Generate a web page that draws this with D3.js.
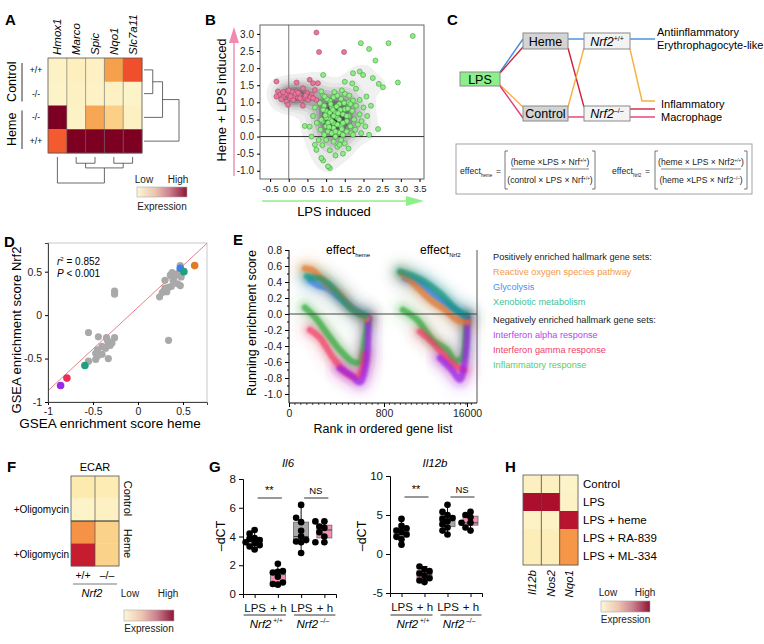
<!DOCTYPE html>
<html>
<head>
<meta charset="utf-8">
<script src="https://cdn.jsdelivr.net/npm/d3@7"></script>
<style>
body{margin:0;background:#fff}
svg{font-family:"Liberation Sans",Arial,sans-serif}
</style>
</head>
<body>
<svg id="fig" width="764" height="644"></svg>
<script>
'use strict'

// ---------- data ----------
// A: heatmap
const aGenes = ["Hmox1", "Marco", "Spic", "Nqo1", "Slc7a11"]
const aRowLabels = ["+/+", "-/-", "-/-", "+/+"]
const aGroups = ["Control", "Heme"]
const aValues = [
	[0.06, 0.09, 0.07, 0.45, 0.63],
	[0.05, 0.07, 0.06, 0.07, 0.05],
	[1.00, 0.06, 0.43, 0.28, 0.07],
	[0.60, 1.00, 1.00, 1.00, 1.00]
]
const aColTree = {h: 1, children: [{leaf: "Hmox1"}, {h: 0.42, children: [
	{h: 0.24, children: [{leaf: "Marco"}, {leaf: "Spic"}]},
	{h: 0.24, children: [{leaf: "Nqo1"}, {leaf: "Slc7a11"}]}]}]}
const aRowTree = {h: 1, children: [{h: 0.53, children: [
	{h: 0.25, children: [{leaf: 0}, {leaf: 1}]}, {leaf: 2}]}, {leaf: 3}]}

// B: scatter (LPS induced vs heme + LPS induced)
const bPink = [[-0.33,1.61],[-0.29,1.32],[-0.24,1.22],[-0.15,1.17],[-0.06,1.32],[-0.02,1.22],[0.03,1.12],[0.07,1.25],
	[0.12,1.07],[0.16,1.19],[0.21,1.32],[0.25,1.15],[0.29,1.22],[0.34,1.07],[0.21,1.58],[0.38,1.41],[0.43,1.15],
	[0.52,1.07],[0.56,1.66],[0.61,1.22],[0.70,1.36],[0.74,1.07],[0.78,1.56],[0.38,0.90],[-0.06,1.02],[-0.02,0.93],
	[-0.20,1.09],[-0.33,1.17],[0.65,1.56],[0.49,1.27],[0.74,3.04],[0.81,2.47],[1.48,2.47],[0.00,1.35],[-0.10,1.25],
	[0.10,1.30],[0.05,1.18],[-0.15,1.30],[0.18,1.25],[0.25,1.28],[0.45,1.20],[0.58,1.15],[0.65,1.12],[0.30,1.12]]
const bGreen = [[0.95,0.9],[1.0,0.75],[1.05,0.6],[1.1,0.5],[1.15,0.85],[1.2,0.4],[1.25,0.7],[1.3,0.55],[1.35,0.95],
	[1.4,0.3],[1.45,0.65],[1.5,0.8],[1.55,0.45],[1.6,1.0],[1.0,0.3],[1.05,0.15],[1.1,1.05],[1.2,1.15],[1.3,1.2],
	[1.4,1.1],[1.5,1.25],[1.6,0.6],[1.7,0.75],[1.65,0.3],[1.75,0.5],[1.8,0.9],[1.85,0.35],[0.9,0.45],[0.85,0.2],
	[0.95,0.05],[1.15,0.1],[1.25,0.0],[1.35,0.12],[1.45,0.05],[1.55,0.15],[1.2,0.25],[1.3,0.35],[1.0,0.55],[1.1,0.7],
	[1.2,0.6],[1.28,0.88],[1.38,0.78],[1.48,0.98],[1.58,0.82],[1.12,0.95],[1.02,1.1],[0.92,1.2],[1.22,1.3],[1.42,1.35],
	[1.62,1.2],[1.72,1.05],[1.78,0.2],[1.9,0.65],[1.95,0.45],[2.0,0.85],[2.05,0.3],[1.68,0.1],[1.4,-0.1],[1.2,-0.15],
	[1.0,-0.1],[1.3,-0.3],[1.1,-0.4],[0.9,-0.25],[1.5,-0.2],[1.6,-0.35],[1.25,-0.55],[1.45,-0.5],[0.8,-0.1],[1.15,0.45],
	[1.35,0.5],[1.25,0.15],[1.45,0.4],[1.05,0.4],[1.55,0.6],[1.65,0.95],[0.98,0.62],[1.18,0.78],[1.32,0.68],[1.42,0.22],
	[1.08,0.28],[3.32,2.94],[1.93,2.73],[2.67,2.73],[2.15,2.56],[2.32,2.22],[1.72,1.85],[1.90,1.90],[1.99,1.80],
	[2.25,1.71],[2.92,1.58],[2.41,1.54],[2.52,1.44],[2.08,1.17],[1.90,1.07],[2.39,0.22],[1.94,0.10],[2.15,0.05],
	[1.72,0.05],[1.10,-0.92],[1.36,-0.24],[0.92,-0.70],[0.87,0.49],[0.43,0.31],[0.61,0.0],[0.70,-0.24],[0.87,-0.63],
	[1.05,-0.87],[0.92,0.78],[0.83,0.98],[0.96,1.17],[0.87,1.32],[0.92,1.80],[0.74,-0.39],[0.56,0.29],[1.7,1.55],
	[1.5,1.6],[1.8,1.4],[2.2,0.9],[2.1,0.6],[0.65,0.6],[0.7,0.85],[0.75,0.4]]
const bXTicks = [-0.5, 0, 0.5, 1, 1.5, 2, 2.5, 3, 3.5]
const bYTicks = [-1, -0.5, 0, 0.5, 1, 1.5, 2, 2.5, 3]

// D: GSEA enrichment scores, heme vs Nrf2
const dGray = [[0.24,0.21],[0.30,0.40],[0.30,0.31],[0.34,0.32],[0.37,0.33],[0.32,0.27],[0.29,0.28],[0.39,0.40],
	[0.41,0.46],[0.43,0.47],[0.45,0.48],[0.48,0.44],[0.47,0.34],[0.40,0.43],[0.36,0.46],[0.47,0.57],[0.44,0.36],
	[0.27,0.26],[0.38,0.49],[-0.26,0.275],[-0.26,0.24],[0.34,-0.29],
	[-0.55,-0.20],[-0.44,-0.25],[-0.35,-0.26],[-0.26,-0.26],[-0.30,-0.32],[-0.33,-0.34],[-0.29,-0.32],[-0.40,-0.36],
	[-0.45,-0.40],[-0.47,-0.44],[-0.40,-0.45],[-0.33,-0.50],[-0.47,-0.51],[-0.55,-0.53],[-0.36,-0.38],[-0.31,-0.35],
	[-0.34,-0.29],[-0.45,-0.47]]
const dSets = ["Glycolysis", "Xenobiotic metabolism", "Reactive oxygen species pathway", "Xenobiotic metabolism",
	"Interferon gamma response", "Interferon alpha response"]
const dSetPoints = [[0.47,0.54],[0.51,0.50],[0.63,0.57],[-0.59,-0.58],[-0.79,-0.725],[-0.86,-0.81]]
const dFit = {slope: 0.96, intercept: 0.09}
const dTicks = [-1, -0.5, 0, 0.5]

// E: running enrichment score curves [rank, score]
const eSets = ["Reactive oxygen species pathway", "Glycolysis", "Xenobiotic metabolism",
	"Interferon alpha response", "Interferon gamma response", "Inflammatory response"]
const eHeme = [
	[[135,0.57],[194,0.55],[261,0.46],[345,0.34],[429,0.24],[514,0.09],[598,0.0],[657,-0.06]],
	[[177,0.42],[244,0.36],[328,0.32],[429,0.20],[531,0.08],[615,0.0]],
	[[152,0.47],[219,0.45],[261,0.44],[345,0.36],[429,0.22],[539,0.05],[640,-0.02]],
	[[429,-0.68],[531,-0.78],[598,-0.85],[648,-0.62],[665,-0.3],[670,-0.05]],
	[[177,-0.2],[261,-0.3],[371,-0.55],[488,-0.74],[581,-0.78],[640,-0.5]],
	[[135,0.08],[219,-0.04],[320,-0.24],[429,-0.45],[539,-0.6],[598,-0.6],[640,-0.3],[665,-0.06]]
]
const eNrf2 = [
	[[4096,0.50],[5927,0.40],[7392,0.30],[9589,0.16],[11969,0.05],[14349,-0.08],[16100,-0.10]],
	[[4645,0.45],[7392,0.38],[10321,0.22],[13251,0.08],[15448,-0.02]],
	[[3730,0.53],[5927,0.48],[8307,0.40],[11054,0.26],[13800,0.07],[15814,-0.02]],
	[[11054,-0.55],[13251,-0.70],[14716,-0.82],[15448,-0.65],[15997,-0.3],[16000,-0.05]],
	[[7392,-0.22],[9589,-0.35],[12335,-0.55],[14166,-0.66],[15448,-0.7]],
	[[4279,0.05],[6842,-0.07],[9772,-0.33],[12335,-0.45],[13800,-0.58],[15082,-0.55],[15814,-0.2],[15997,-0.02]]
]
const eYTicks = [-1.0, -0.8, -0.6, -0.4, -0.2, 0.0, 0.2, 0.4, 0.6, 0.8]
const eXTicks = [0, 800, 16000]

// F: ECAR heatmap
const fCols = ["+/+", "\u2013/\u2013"]
const fRowLabels = ["", "+Oligomycin", "", "+Oligomycin"]
const fGroups = ["Control", "Heme"]
const fValues = [[0.15, 0.13], [0.05, 0.07], [0.48, 0.27], [0.78, 0.27]]

// G: qPCR -dCT
const gTickLabels = ["LPS", "+ h", "LPS", "+ h"]
const il6Values = [
	[4.45, 4.2, 3.9, 3.85, 3.75, 3.6, 3.55, 3.4, 3.3, 3.1],
	[2.1, 1.55, 1.5, 1.6, 1.2, 0.8, 0.65, 0.7],
	[6.2, 5.3, 5.0, 4.4, 4.0, 3.75, 3.65, 3.6, 2.85],
	[5.05, 5.05, 4.7, 4.6, 4.3, 4.0, 3.6, 3.6]
]
const il12bValues = [
	[4.5, 3.6, 3.3, 3.0, 2.8, 2.5, 2.2, 1.9, 1.2],
	[-1.6, -2.0, -2.2, -2.5, -2.8, -3.1, -3.4, -3.6],
	[6.3, 5.4, 5.0, 4.6, 4.5, 4.2, 3.8, 3.4, 3.0, 2.5],
	[5.4, 5.0, 4.7, 4.0, 4.0, 3.4, 3.0]
]
const il6Ticks = [0, 2, 4, 6, 8]
const il12bTicks = [-5, 0, 5, 10]

// H: heatmap
const hGenes = ["Il12b", "Nos2", "Nqo1"]
const hConds = ["Control", "LPS", "LPS + heme", "LPS + RA-839", "LPS + ML-334"]
const hValues = [[0.08, 0.08, 0.05], [0.86, 0.86, 0.06], [0.06, 0.06, 0.82], [0.11, 0.11, 0.47], [0.11, 0.11, 0.47]]

// ---------- setup ----------
const svg = d3.select("#fig")
svg.append("rect").attr("width", 764).attr("height", 644).attr("fill", "#fff")
const defs = svg.append("defs")

const heat = d3.scaleLinear()
	.domain([0, 0.2, 0.45, 0.62, 0.8, 1])
	.range(["#fdf7d4", "#fde6a2", "#f7a04c", "#f2522b", "#bf1530", "#7d0022"])

let grad = defs.append("linearGradient").attr("id", "legGrad")
;[["0%", "#fdf6d8"], ["35%", "#ecc7b0"], ["65%", "#cc8090"], ["100%", "#8c1534"]].forEach(function(s){
	grad.append("stop").attr("offset", s[0]).attr("stop-color", s[1])
})

function blurFilter(id, sd){
	defs.append("filter").attr("id", id)
		.attr("x", "-50%").attr("y", "-50%").attr("width", "200%").attr("height", "200%")
		.append("feGaussianBlur").attr("stdDeviation", sd)
}
blurFilter("b1", 1.3)
blurFilter("b2", 2.8)
blurFilter("b3", 5)

function letter(t, x, y){
	svg.append("text").attr("x", x).attr("y", y).attr("font-size", 15).attr("font-weight", "bold").text(t)
}
letter("A", 5, 25); letter("B", 205, 25); letter("C", 447, 25); letter("D", 4, 247)
letter("E", 233, 245); letter("F", 7, 472); letter("G", 209, 472); letter("H", 505, 472)

function legend(x, y, w, h, lowX, highX, labY, expY){
	let g = svg.append("g").attr("font-size", 10).attr("fill", "#222")
	g.append("text").attr("x", lowX).attr("y", labY).attr("text-anchor", "middle").text("Low")
	g.append("text").attr("x", highX).attr("y", labY).attr("text-anchor", "middle").text("High")
	g.append("rect").attr("x", x).attr("y", y).attr("width", w).attr("height", h)
		.attr("fill", "url(#legGrad)").attr("stroke", "#aaa").attr("stroke-width", 0.6)
	g.append("text").attr("x", x + w / 2).attr("y", expY).attr("text-anchor", "middle").text("Expression")
}

// dendrogram: pos(leaf) gives leaf coordinate, hs(h) gives depth coordinate
function dendro(tree, pos, hs, vertical){
	let g = svg.append("g").attr("stroke", "#444").attr("stroke-width", 0.8).attr("fill", "none")
	function walk(n){
		if(n.leaf !== undefined) return {p: pos(n.leaf), h: 0}
		let kids = n.children.map(walk)
		let p = d3.mean(kids, function(k){ return k.p })
		kids.forEach(function(k){
			if(vertical) g.append("line").attr("x1", k.p).attr("x2", k.p).attr("y1", hs(k.h)).attr("y2", hs(n.h))
			else g.append("line").attr("y1", k.p).attr("y2", k.p).attr("x1", hs(k.h)).attr("x2", hs(n.h))
		})
		let ext = d3.extent(kids, function(k){ return k.p })
		if(vertical) g.append("line").attr("x1", ext[0]).attr("x2", ext[1]).attr("y1", hs(n.h)).attr("y2", hs(n.h))
		else g.append("line").attr("y1", ext[0]).attr("y2", ext[1]).attr("x1", hs(n.h)).attr("x2", hs(n.h))
		return {p: p, h: n.h}
	}
	walk(tree)
}

function heatCells(g, values, x, y, cols){
	values.forEach(function(row, i){
		row.forEach(function(v, j){
			g.append("rect").attr("x", x(cols[j])).attr("y", y(i))
				.attr("width", x.bandwidth() + 0.3).attr("height", y.bandwidth() + 0.3)
				.attr("fill", heat(v))
		})
	})
}

// ---------- A ----------
;(function(){
	let xA = d3.scaleBand().domain(aGenes).range([48, 142])
	let yA = d3.scaleBand().domain(d3.range(aValues.length)).range([58, 153])
	let g = svg.append("g")
	heatCells(g, aValues, xA, yA, aGenes)
	aGenes.slice(1).forEach(function(c){
		g.append("line").attr("x1", xA(c)).attr("x2", xA(c)).attr("y1", 58).attr("y2", 153)
			.attr("stroke", "#666").attr("stroke-width", 0.6)
	})
	g.append("rect").attr("x", 48).attr("y", 58).attr("width", 94).attr("height", 95)
		.attr("fill", "none").attr("stroke", "#555").attr("stroke-width", 0.8)
	aGenes.forEach(function(c){
		g.append("text").attr("transform", "translate(" + (xA(c) + xA.bandwidth() / 2 + 4) + ",55) rotate(-90)")
			.attr("font-size", 11.5).attr("font-style", "italic").text(c)
	})
	aRowLabels.forEach(function(r, i){
		g.append("text").attr("x", 36).attr("y", yA(i) + yA.bandwidth() / 2 + 3)
			.attr("text-anchor", "middle").attr("font-size", 8.5).text(r)
	})
	aGroups.forEach(function(t, i){
		let y0 = yA(i * 2), y1 = yA(i * 2 + 1) + yA.bandwidth()
		g.append("line").attr("x1", 22).attr("x2", 22).attr("y1", y0 + 5).attr("y2", y1 - 4)
			.attr("stroke", "#333").attr("stroke-width", 1)
		g.append("text").attr("transform", "translate(16," + ((y0 + y1) / 2) + ") rotate(-90)")
			.attr("text-anchor", "middle").attr("font-size", 12.5).text(t)
	})
	dendro(aColTree, function(l){ return xA(l) + xA.bandwidth() / 2 },
		d3.scaleLinear().domain([0, 1]).range([157, 183]), true)
	dendro(aRowTree, function(l){ return yA(l) + yA.bandwidth() / 2 },
		d3.scaleLinear().domain([0, 1]).range([144, 179]), false)
	legend(137, 187, 50, 10, 144, 178, 183, 210)
})()

// ---------- B ----------
;(function(){
	let xB = d3.scaleLinear().domain([-0.77, 3.62]).range([260, 424])
	let yB = d3.scaleLinear().domain([-1.24, 3.26]).range([179, 25])
	let g = svg.append("g")
	defs.append("clipPath").attr("id", "clipB").append("rect").attr("x", 260).attr("y", 25).attr("width", 164).attr("height", 154)

	let all = bPink.concat(bGreen)
	let dens = d3.contourDensity()
		.x(function(d){ return xB(d[0]) }).y(function(d){ return yB(d[1]) })
		.size([764, 644]).bandwidth(6.5).thresholds(12)(all)
	let dcol = d3.scalePow().exponent(1.5).domain([0, dens.length - 1]).range(["#ececec", "#1c1c1c"])
	g.append("g").attr("clip-path", "url(#clipB)").selectAll("path").data(dens).enter().append("path")
		.attr("d", d3.geoPath()).attr("fill", function(d, i){ return dcol(i) }).attr("opacity", 0.8)

	g.append("line").attr("x1", xB(0)).attr("x2", xB(0)).attr("y1", 25).attr("y2", 179).attr("stroke", "#777").attr("stroke-width", 1)
	g.append("line").attr("x1", 260).attr("x2", 424).attr("y1", yB(0)).attr("y2", yB(0)).attr("stroke", "#333").attr("stroke-width", 1)

	g.append("g").selectAll("circle").data(bGreen).enter().append("circle")
		.attr("cx", function(d){ return xB(d[0]) }).attr("cy", function(d){ return yB(d[1]) }).attr("r", 2.5)
		.attr("fill", "#8fec86").attr("stroke", "#3f9c3f").attr("stroke-width", 0.6)
	g.append("g").selectAll("circle").data(bPink).enter().append("circle")
		.attr("cx", function(d){ return xB(d[0]) }).attr("cy", function(d){ return yB(d[1]) }).attr("r", 2.5)
		.attr("fill", "#e6789c").attr("stroke", "#a84868").attr("stroke-width", 0.6)

	g.append("rect").attr("x", 260).attr("y", 25).attr("width", 164).attr("height", 154)
		.attr("fill", "none").attr("stroke", "#555").attr("stroke-width", 0.9)
	let ax = g.append("g").attr("transform", "translate(0,179)")
		.call(d3.axisBottom(xB).tickValues(bXTicks).tickSize(3).tickFormat(d3.format(".1f")))
	let ay = g.append("g").attr("transform", "translate(260,0)")
		.call(d3.axisLeft(yB).tickValues(bYTicks).tickSize(3).tickFormat(d3.format(".1f")))
	;[ax, ay].forEach(function(a){
		a.select(".domain").remove()
		a.selectAll("text").attr("font-family", "Liberation Sans, Arial").attr("fill", "#222")
			.text(function(d){ return d3.format(".1f")(d).replace("\u2212", "-") })
	})
	ax.selectAll("text").attr("font-size", 9.5)
	ay.selectAll("text").attr("font-size", 10)

	// arrows
	g.append("line").attr("x1", 234).attr("x2", 234).attr("y1", 176).attr("y2", 40).attr("stroke", "#f08aae").attr("stroke-width", 1.4)
	g.append("path").attr("d", "M234,27 L229,43 L239,43 Z").attr("fill", "#f08aae")
	g.append("text").attr("transform", "translate(226,100) rotate(-90)").attr("text-anchor", "middle")
		.attr("font-size", 13).text("Heme + LPS induced")
	g.append("line").attr("x1", 262).attr("x2", 410).attr("y1", 201).attr("y2", 201).attr("stroke", "#8ff08a").attr("stroke-width", 1.4)
	g.append("path").attr("d", "M424,201 L406,196 L406,206 Z").attr("fill", "#8ff08a")
	g.append("text").attr("x", 334).attr("y", 216).attr("text-anchor", "middle").attr("font-size", 13).text("LPS induced")
})()

// ---------- C ----------
;(function(){
	let g = svg.append("g")
	let lines = [
		["#3d8ee0", [[500, 72], [523, 39]]], ["#3d8ee0", [[568, 39], [584, 39]]], ["#3d8ee0", [[630, 39], [655, 39]]],
		["#d0203c", [[500, 73], [523, 47]]], ["#d0203c", [[568, 48], [584, 107]]], ["#d0203c", [[630, 109], [655, 109]]],
		["#f6b03c", [[500, 85], [523, 107]]], ["#f6b03c", [[568, 107], [584, 48]]], ["#f6b03c", [[630, 49], [642, 101], [655, 101]]],
		["#e8386e", [[500, 86], [523, 118]]], ["#e8386e", [[568, 117], [584, 117]]], ["#e8386e", [[630, 117], [655, 117]]]
	]
	lines.forEach(function(l){
		g.append("path").attr("d", d3.line()(l[1])).attr("fill", "none").attr("stroke", l[0]).attr("stroke-width", 1.4)
	})
	function box(x, y, w, h, fill, label, sup){
		g.append("rect").attr("x", x).attr("y", y).attr("width", w).attr("height", h)
			.attr("fill", fill).attr("stroke", "#8a8a8a").attr("stroke-width", 1)
		let t = g.append("text").attr("x", x + w / 2).attr("y", y + h / 2 + 4.5).attr("text-anchor", "middle").attr("font-size", 12.5)
		if(sup){
			t.append("tspan").attr("font-style", "italic").text(label)
			t.append("tspan").attr("font-size", 7).attr("dy", -5).text(sup)
		}else t.text(label)
	}
	box(460, 72, 40, 14, "#8cf08a", "LPS")
	box(523, 33, 45, 16, "#d4d4d4", "Heme")
	box(523, 106, 45, 15, "#d4d4d4", "Control")
	box(584, 33, 46, 16, "#f3f3f3", "Nrf2", "+/+")
	box(584, 106, 46, 15, "#f3f3f3", "Nrf2", "\u2013/\u2013")
	let lab = g.append("g").attr("font-size", 11)
	lab.append("text").attr("x", 657).attr("y", 36).text("Antiinflammatory")
	lab.append("text").attr("x", 657).attr("y", 49).text("Erythrophagocyte-like")
	lab.append("text").attr("x", 661).attr("y", 108).text("Inflammatory")
	lab.append("text").attr("x", 661).attr("y", 121).text("Macrophage")

	// equation box
	let e = svg.append("g").attr("font-size", 8.6).attr("fill", "#222")
	e.append("rect").attr("x", 456).attr("y", 144).attr("width", 296).attr("height", 50)
		.attr("fill", "#fff").attr("stroke", "#999").attr("stroke-width", 0.9)
	function effect(x, sub, eqX){
		let t = e.append("text").attr("x", x).attr("y", 174)
		t.append("tspan").text("effect")
		t.append("tspan").attr("dy", 2.5).attr("font-size", 4.5).text(sub)
		e.append("text").attr("x", eqX).attr("y", 174).text("=")
	}
	function frac(x0, x1, num, den){
		e.append("path").attr("d", "M" + (x0 + 3) + ",151H" + x0 + "V189H" + (x0 + 3) + "M" + (x1 - 3) + ",151H" + x1 + "V189H" + (x1 - 3))
			.attr("fill", "none").attr("stroke", "#555").attr("stroke-width", 0.8)
		e.append("line").attr("x1", x0 + 6).attr("x2", x1 - 6).attr("y1", 169).attr("y2", 169).attr("stroke", "#555").attr("stroke-width", 0.7)
		;[[num, 165], [den, 183]].forEach(function(p){
			let t = e.append("text").attr("x", (x0 + x1) / 2).attr("y", p[1]).attr("text-anchor", "middle")
			t.append("tspan").text(p[0][0])
			t.append("tspan").attr("font-size", 4.5).attr("dy", -3).text(p[0][1])
			t.append("tspan").attr("dy", 3).text(")")
		})
	}
	effect(460, "heme", 496)
	frac(505, 595, ["(heme \u00d7LPS \u00d7 Nrf", "+/+"], ["(control \u00d7 LPS \u00d7 Nrf", "+/+"])
	effect(612, "Nrf2", 645)
	frac(655, 747, ["(heme \u00d7 LPS \u00d7 Nrf2", "+/+"], ["(heme \u00d7LPS \u00d7 Nrf2", "\u2013/\u2013"])
})()

// ---------- D ----------
;(function(){
	let xD = d3.scaleLinear().domain([-1, 0.767]).range([48, 207])
	let yD = d3.scaleLinear().domain([-1, 0.83]).range([402, 243])
	let setColor = d3.scaleOrdinal().domain(eSets)
		.range(["#e07a28", "#3d80e8", "#1fa080", "#9a2ae6", "#ef2c56", "#2fa83a"])
	let g = svg.append("g")
	defs.append("clipPath").attr("id", "clipD").append("rect").attr("x", 48).attr("y", 243).attr("width", 159).attr("height", 159)
	g.append("rect").attr("x", 48).attr("y", 243).attr("width", 159).attr("height", 159)
		.attr("fill", "none").attr("stroke", "#bbb").attr("stroke-width", 0.8)
	g.append("line").attr("clip-path", "url(#clipD)")
		.attr("x1", xD(-1)).attr("y1", yD(dFit.intercept - dFit.slope))
		.attr("x2", xD(0.9)).attr("y2", yD(dFit.intercept + dFit.slope * 0.9))
		.attr("stroke", "#e8707a").attr("stroke-width", 0.9)
	g.append("g").selectAll("circle").data(dGray).enter().append("circle")
		.attr("cx", function(d){ return xD(d[0]) }).attr("cy", function(d){ return yD(d[1]) }).attr("r", 3.6)
		.attr("fill", "#a9a9a9")
	g.append("g").selectAll("circle").data(dSetPoints).enter().append("circle")
		.attr("cx", function(d){ return xD(d[0]) }).attr("cy", function(d){ return yD(d[1]) }).attr("r", 3.8)
		.attr("fill", function(d, i){ return setColor(dSets[i]) })
	let fmt = function(d){ return String(d) }
	let ax = g.append("g").attr("transform", "translate(0,402)").call(d3.axisBottom(xD).tickValues(dTicks).tickSize(3).tickFormat(fmt))
	let ay = g.append("g").attr("transform", "translate(48,0)").call(d3.axisLeft(yD).tickValues(dTicks).tickSize(3).tickFormat(fmt))
	;[ax, ay].forEach(function(a){
		a.select(".domain").attr("stroke", "#444")
		a.selectAll("text").attr("font-size", 10.5).attr("font-family", "Liberation Sans, Arial").attr("fill", "#222")
	})
	g.append("text").attr("x", 57).attr("y", 265).attr("font-size", 10)
		.call(function(t){
			t.append("tspan").attr("font-style", "italic").text("r")
			t.append("tspan").attr("font-size", 6).attr("dy", -4).text("2")
			t.append("tspan").attr("dy", 4).text(" = 0.852")
		})
	g.append("text").attr("x", 57).attr("y", 277).attr("font-size", 10)
		.call(function(t){
			t.append("tspan").attr("font-style", "italic").text("P")
			t.append("tspan").text(" < 0.001")
		})
	g.append("text").attr("x", 110).attr("y", 428).attr("text-anchor", "middle").attr("font-size", 13.5).text("GSEA enrichment score heme")
	g.append("text").attr("transform", "translate(21,330) rotate(-90)").attr("text-anchor", "middle")
		.attr("font-size", 13).text("GSEA enrichment score Nrf2")
})()

// ---------- E ----------
;(function(){
	let xE = d3.scaleLinear().domain([0, 800, 16000, 17800]).range([289, 384, 467, 477])
	let yE = d3.scaleLinear().domain([-1.1125, 0.8]).range([403, 250])
	let blobColor = d3.scaleOrdinal().domain(eSets)
		.range(["#e8782a", "#3a7ee6", "#12957a", "#9a1ee6", "#f23c64", "#2fa83a"])
	let textColor = d3.scaleOrdinal().domain(eSets)
		.range(["#f49a4e", "#4e90f0", "#3cc39a", "#b444f2", "#f2406a", "#5ccc5c"])
	let line = d3.line().x(function(d){ return xE(d[0]) }).y(function(d){ return yE(d[1]) }).curve(d3.curveCatmullRom)
	let g = svg.append("g")
	let order = [5, 4, 3, 1, 0, 2]
	let layers = [[28, 0.08, "b3"], [15, 0.22, "b2"], [6.5, 0.7, "b1"]]
	layers.forEach(function(ly){
		;[eHeme, eNrf2].forEach(function(curves){
			order.forEach(function(i){
				g.append("path").attr("d", line(curves[i])).attr("fill", "none")
					.attr("stroke", blobColor(eSets[i])).attr("stroke-width", ly[0]).attr("stroke-opacity", ly[1])
					.attr("stroke-linecap", "round").attr("stroke-linejoin", "round").attr("filter", "url(#" + ly[2] + ")")
			})
		})
	})
	g.append("line").attr("x1", 289).attr("x2", 477).attr("y1", yE(0)).attr("y2", yE(0)).attr("stroke", "#444").attr("stroke-width", 1)
	g.append("line").attr("x1", 477).attr("x2", 477).attr("y1", 250).attr("y2", 403).attr("stroke", "#555").attr("stroke-width", 1)

	let ay = g.append("g").attr("transform", "translate(289,0)")
		.call(d3.axisLeft(yE).tickValues(eYTicks).tickSize(4).tickFormat(function(d){ return d3.format(".1f")(d).replace("\u2212", "-") }))
	ay.select(".domain").attr("d", "M0," + yE(0.8) + "V403")
	ay.append("g").selectAll("line").data(eYTicks.slice(0, -1)).enter().append("line")
		.attr("x1", -2).attr("x2", 0).attr("y1", function(d){ return yE(d + 0.1) }).attr("y2", function(d){ return yE(d + 0.1) })
		.attr("stroke", "#000")
	let ax = g.append("g").attr("transform", "translate(0,403)")
		.call(d3.axisBottom(xE).tickValues(eXTicks).tickSize(4).tickFormat(d3.format("d")))
	ax.select(".domain").attr("d", "M289,0H477")
	let minor = d3.range(50, 800, 50).concat(d3.range(1800, 17800, 1000))
	ax.append("g").selectAll("line").data(minor).enter().append("line")
		.attr("x1", function(d){ return xE(d) }).attr("x2", function(d){ return xE(d) }).attr("y1", 0).attr("y2", 2)
		.attr("stroke", "#000").attr("stroke-width", 0.7)
	;[ax, ay].forEach(function(a){
		a.selectAll("text").attr("font-size", 10.5).attr("font-family", "Liberation Sans, Arial").attr("fill", "#222")
	})
	g.append("text").attr("transform", "translate(256,323) rotate(-90)").attr("text-anchor", "middle")
		.attr("font-size", 12.5).text("Running enrichment score")
	g.append("text").attr("x", 383).attr("y", 433).attr("text-anchor", "middle").attr("font-size", 12.5).text("Rank in ordered gene list")
	;[["heme", 326], ["Nrf2", 420]].forEach(function(p){
		let t = g.append("text").attr("x", p[1]).attr("y", 254).attr("font-size", 12)
		t.append("tspan").text("effect")
		t.append("tspan").attr("font-size", 6).attr("dy", 3).text(p[0])
	})
	// legend
	let lg = g.append("g").attr("font-size", 9.2)
	lg.append("text").attr("x", 493).attr("y", 260).attr("fill", "#222").text("Positively enriched hallmark gene sets:")
	lg.append("text").attr("x", 493).attr("y", 323).attr("fill", "#222").text("Negatively enriched hallmark gene sets:")
	let ly = [275, 290, 305, 338, 353, 368]
	eSets.forEach(function(s, i){
		lg.append("text").attr("x", 493).attr("y", ly[i]).attr("fill", textColor(s)).text(s)
	})
})()

// ---------- F ----------
;(function(){
	let xF = d3.scaleBand().domain(fCols).range([71, 119])
	let yF = d3.scaleBand().domain(d3.range(fValues.length)).range([476, 566])
	let g = svg.append("g")
	heatCells(g, fValues, xF, yF, fCols)
	g.append("line").attr("x1", 95).attr("x2", 95).attr("y1", 476).attr("y2", 566).attr("stroke", "#555").attr("stroke-width", 0.7)
	g.append("line").attr("x1", 71).attr("x2", 119).attr("y1", yF(2)).attr("y2", yF(2)).attr("stroke", "#222").attr("stroke-width", 1)
	g.append("rect").attr("x", 71).attr("y", 476).attr("width", 48).attr("height", 90)
		.attr("fill", "none").attr("stroke", "#555").attr("stroke-width", 0.8)
	g.append("text").attr("x", 95).attr("y", 471).attr("text-anchor", "middle").attr("font-size", 11).text("ECAR")
	fRowLabels.forEach(function(r, i){
		if(r) g.append("text").attr("x", 69).attr("y", yF(i) + yF.bandwidth() / 2 + 3.5).attr("text-anchor", "end")
			.attr("font-size", 10).text(r)
	})
	fGroups.forEach(function(t, i){
		let cy = yF(i * 2) + yF.bandwidth()
		g.append("text").attr("transform", "translate(124," + cy + ") rotate(90)").attr("text-anchor", "middle")
			.attr("font-size", 11).text(t)
	})
	fCols.forEach(function(c){
		g.append("text").attr("x", xF(c) + xF.bandwidth() / 2).attr("y", 579).attr("text-anchor", "middle")
			.attr("font-size", 10.5).text(c)
	})
	g.append("line").attr("x1", 73).attr("x2", 117).attr("y1", 584).attr("y2", 584).attr("stroke", "#555").attr("stroke-width", 0.8)
	g.append("text").attr("x", 92).attr("y", 597).attr("text-anchor", "middle").attr("font-size", 11)
		.attr("font-style", "italic").text("Nrf2")
	legend(124, 610, 50, 11, 130, 168, 597, 632)
})()

// ---------- G ----------
function boxPanel(vals, ticks, xr, yDom, yRange, title, titleX, labX, sigY){
	let x = d3.scalePoint().domain(d3.range(4)).range(xr).padding(0.5)
	let y = d3.scaleLinear().domain(yDom).range(yRange)
	let g = svg.append("g")
	let ay = g.append("g").attr("transform", "translate(" + xr[0] + ",0)")
		.call(d3.axisLeft(y).tickValues(ticks).tickSize(4).tickFormat(function(d){ return String(d) }))
	let ax = g.append("g").attr("transform", "translate(0," + yRange[0] + ")")
		.call(d3.axisBottom(x).tickSize(4).tickFormat(function(d){ return gTickLabels[d] }))
	;[ax, ay].forEach(function(a){
		a.select(".domain").attr("stroke-width", 1)
		a.selectAll("text").attr("font-size", 11.5).attr("font-family", "Liberation Sans, Arial").attr("fill", "#111")
	})
	ax.selectAll("text").attr("dy", "0.95em")
	vals.forEach(function(v, i){
		let s = v.slice().sort(d3.ascending)
		let q1 = d3.quantile(s, 0.25), md = d3.quantile(s, 0.5), q3 = d3.quantile(s, 0.75)
		let cx = x(i), fill = i % 2 ? "#f38fb3" : "#a8a8a8"
		g.append("line").attr("x1", cx).attr("x2", cx).attr("y1", y(s[0])).attr("y2", y(s[s.length - 1])).attr("stroke", "#111")
		;[s[0], s[s.length - 1]].forEach(function(w){
			g.append("line").attr("x1", cx - 3).attr("x2", cx + 3).attr("y1", y(w)).attr("y2", y(w)).attr("stroke", "#111")
		})
		g.append("rect").attr("x", cx - 7.5).attr("y", y(q3)).attr("width", 15).attr("height", y(q1) - y(q3))
			.attr("fill", fill).attr("stroke", "#666").attr("stroke-width", 0.8)
		g.append("line").attr("x1", cx - 7.5).attr("x2", cx + 7.5).attr("y1", y(md)).attr("y2", y(md)).attr("stroke", "#444")
		// simple dodge so the dots do not sit on top of each other
		let placed = []
		s.forEach(function(val){
			let py = y(val), off = [0, -5, 5, -9, 9, -3, 3]
			let ox = off.find(function(o){
				return placed.every(function(p){ return Math.hypot(p[0] - o, p[1] - py) > 5 })
			})
			if(ox === undefined) ox = 0
			placed.push([ox, py])
			g.append("circle").attr("cx", cx + ox).attr("cy", py).attr("r", 3.3).attr("fill", "#000")
		})
	})
	// significance
	;[[0, 1, "**"], [2, 3, "NS"]].forEach(function(p){
		g.append("line").attr("x1", x(p[0]) + 3).attr("x2", x(p[1]) + 4).attr("y1", sigY).attr("y2", sigY).attr("stroke", "#333")
		g.append("text").attr("x", (x(p[0]) + x(p[1])) / 2 + 3).attr("y", sigY - 4).attr("text-anchor", "middle")
			.attr("font-size", p[2] === "NS" ? 9.5 : 11).text(p[2])
	})
	g.append("text").attr("x", titleX).attr("y", 467).attr("text-anchor", "middle").attr("font-size", 11.5)
		.attr("font-style", "italic").text(title)
	g.append("text").attr("transform", "translate(" + labX + ",536) rotate(-90)").attr("text-anchor", "middle")
		.attr("font-size", 12.5).text("\u2013dCT")
	;[[0, 1, "+/+"], [2, 3, "\u2013/\u2013"]].forEach(function(p, k){
		let a = x(p[0]) - (k ? 7 : 11), b = x(p[1]) + (k ? 11 : 8)
		g.append("line").attr("x1", a).attr("x2", b).attr("y1", 615).attr("y2", 615).attr("stroke", "#333")
		let t = g.append("text").attr("x", (x(p[0]) + x(p[1])) / 2).attr("y", 628).attr("text-anchor", "middle").attr("font-size", 11.5)
		t.append("tspan").attr("font-style", "italic").text("Nrf2")
		t.append("tspan").attr("font-size", 6.5).attr("dy", -5).text(" " + p[2])
	})
}
boxPanel(il6Values, il6Ticks, [243, 336], [0, 8], [594, 479], "Il6", 288, 225, 498)
boxPanel(il12bValues, il12bTicks, [390, 482], [-5, 10], [593, 476], "Il12b", 435, 366, 497)

// ---------- H ----------
;(function(){
	let xH = d3.scaleBand().domain(hGenes).range([523, 578])
	let yH = d3.scaleBand().domain(d3.range(hConds.length)).range([475, 565])
	let g = svg.append("g")
	heatCells(g, hValues, xH, yH, hGenes)
	hGenes.slice(1).forEach(function(c){
		g.append("line").attr("x1", xH(c)).attr("x2", xH(c)).attr("y1", 475).attr("y2", 565).attr("stroke", "#444").attr("stroke-width", 0.8)
	})
	g.append("rect").attr("x", 523).attr("y", 475).attr("width", 55).attr("height", 90)
		.attr("fill", "none").attr("stroke", "#555").attr("stroke-width", 0.8)
	hConds.forEach(function(c, i){
		g.append("text").attr("x", 583).attr("y", yH(i) + yH.bandwidth() / 2 + 4).attr("font-size", 11.5).text(c)
	})
	hGenes.forEach(function(c){
		g.append("text").attr("transform", "translate(" + (xH(c) + xH.bandwidth() / 2 + 4) + ",570) rotate(-90)")
			.attr("text-anchor", "end").attr("font-size", 11.5).attr("font-style", "italic").text(c)
	})
	legend(601, 601, 49, 11, 608, 645, 596, 623)
})()
</script>
</body>
</html>
